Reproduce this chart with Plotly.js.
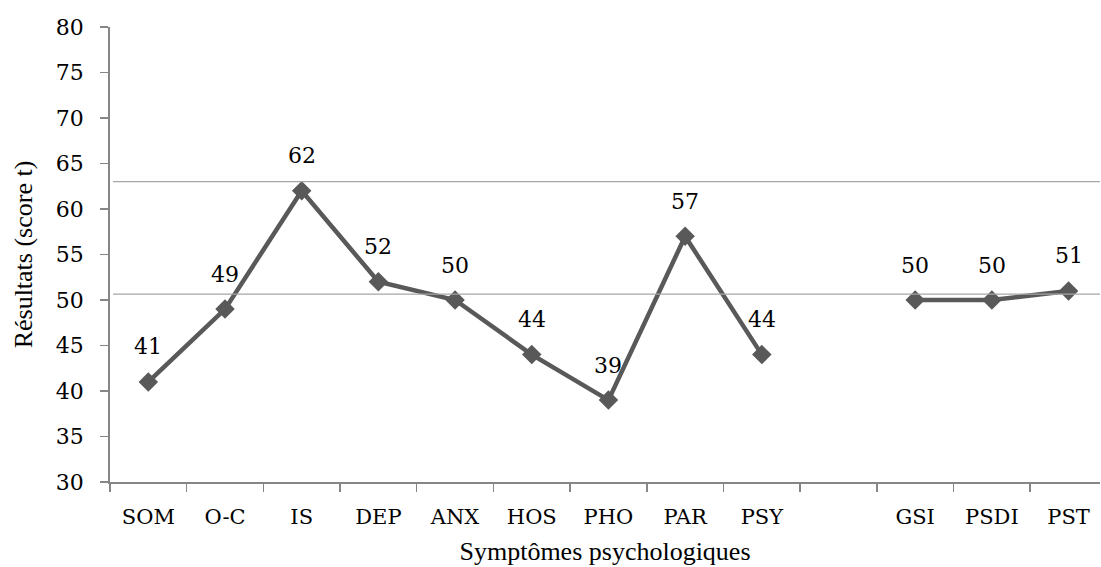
<!DOCTYPE html>
<html>
<head>
<meta charset="utf-8">
<script src="https://cdn.plot.ly/plotly-3.0.1.min.js"></script>
<style>html,body{margin:0;padding:0;background:#fff;overflow:hidden}</style>
</head>
<body>
<div id="chart" style="width:1101px;height:567px"></div>
<script>
const categories = ["SOM","O-C","IS","DEP","ANX","HOS","PHO","PAR","PSY"," ","GSI","PSDI","PST"];
const scaleNames = ["SOM","O-C","IS","DEP","ANX","HOS","PHO","PAR","PSY"];
const scaleValues = [41,49,62,52,50,44,39,57,44];
const globalNames = ["GSI","PSDI","PST"];
const globalValues = [50,50,51];
const referenceLines = [63, 50.65];
const yTicks = [30,35,40,45,50,55,60,65,70,75,80];

const lineColor = "#595959";
const serif = "'DejaVu Serif', serif";
const titleSerif = "'Liberation Serif', 'Times New Roman', serif";

function series(xs, ys) {
  return {
    type: "scatter", mode: "lines+markers", x: xs, y: ys,
    line: {color: lineColor, width: 4.5},
    marker: {symbol: "diamond", size: 15, color: lineColor},
    hoverinfo: "skip", showlegend: false
  };
}

const labels = [];
function addLabels(xs, ys) {
  xs.forEach((x, i) => labels.push({
    x: x, y: ys[i], xref: "x", yref: "y", text: String(ys[i]),
    showarrow: false, yshift: 35, yanchor: "middle",
    font: {family: serif, size: 22, color: "#000"}
  }));
}
addLabels(scaleNames, scaleValues);
addLabels(globalNames, globalValues);

const shapes = referenceLines.map(v => ({
  type: "line", xref: "paper", yref: "y", x0: 0.003, x1: 1, y0: v, y1: v,
  line: {color: "#a6a6a6", width: 1.3}
}));

const layout = {
  width: 1101, height: 567,
  margin: {l: 110, r: 1, t: 27, b: 85},
  paper_bgcolor: "#fff", plot_bgcolor: "#fff",
  font: {family: serif, color: "#000"},
  xaxis: {
    type: "category", categoryorder: "array", categoryarray: categories,
    tickvals: categories, ticktext: categories,
    range: [-0.5, 12.41], automargin: false,
    tickson: "boundaries", ticks: "outside", ticklen: 8, tickwidth: 1.5, tickcolor: "#868686",
    ticklabelstandoff: 15,
    showline: true, linecolor: "#868686", linewidth: 1.8,
    showgrid: false, zeroline: false,
    tickfont: {family: serif, size: 21, color: "#000"},
    title: {text: "Symptômes psychologiques", standoff: 14, font: {family: titleSerif, size: 26, color: "#000"}}
  },
  yaxis: {
    range: [30, 80], tickvals: yTicks, automargin: false,
    ticks: "outside", ticklen: 8, tickwidth: 1.5, tickcolor: "#868686",
    ticklabelstandoff: 12,
    showline: true, linecolor: "#868686", linewidth: 1.8,
    showgrid: false, zeroline: false,
    tickfont: {family: serif, size: 22, color: "#000"},
    title: {text: "Résultats (score t)", standoff: 16, font: {family: titleSerif, size: 26, color: "#000"}}
  },
  shapes: shapes,
  annotations: labels,
  showlegend: false
};

Plotly.newPlot("chart", [series(scaleNames, scaleValues), series(globalNames, globalValues)], layout, {displayModeBar: false, staticPlot: true});
</script>
</body>
</html>
